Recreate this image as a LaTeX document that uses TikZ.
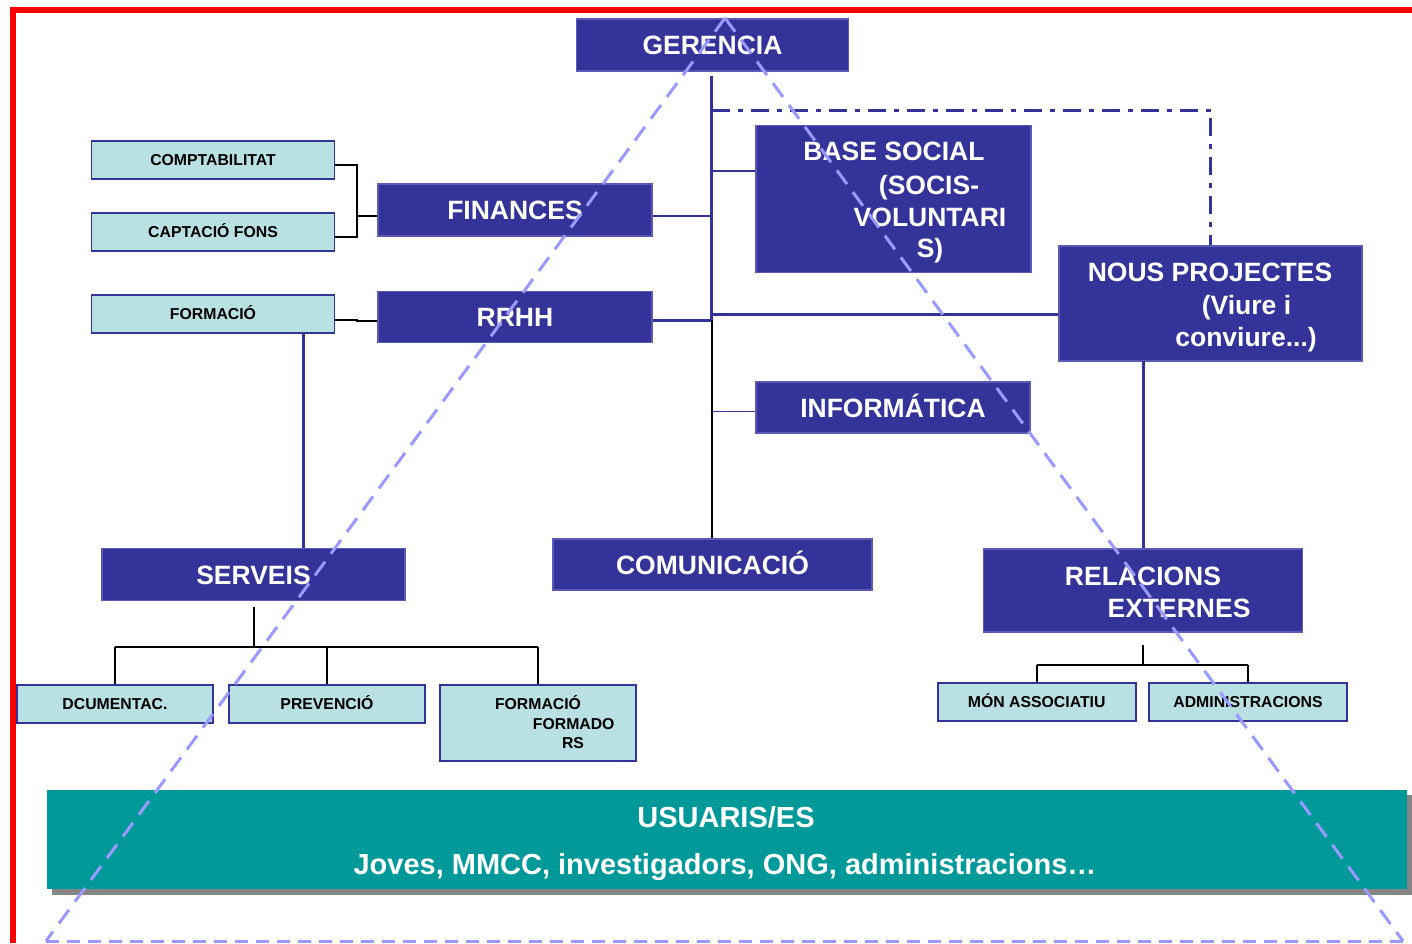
\documentclass[tikz,border=0pt]{standalone}
\usepackage{fontspec}
\setmainfont{Liberation Sans}
\definecolor{navy}{HTML}{333399}
\definecolor{navyedge}{HTML}{5A5AB4}
\definecolor{paleteal}{HTML}{B9E0E3}
\definecolor{bannerteal}{HTML}{009999}
\definecolor{tri}{HTML}{9999FF}
\definecolor{shadowgray}{HTML}{858585}
\tikzset{
  bigbox/.style={fill=navy, draw=navyedge, line width=1.2pt, text=white,
    font=\fontsize{26.5}{30}\selectfont\bfseries, inner sep=0pt,
    text height=19pt, text depth=0pt},
  smallbox/.style={fill=paleteal, draw=navy, line width=1.8pt, text=black,
    font=\fontsize{15.8}{19}\selectfont\bfseries, inner sep=0pt,
    text height=11.3pt, text depth=0pt},
  bigtext/.style={text=white, font=\fontsize{26.5}{30}\selectfont\bfseries,
    inner sep=0pt, text height=19pt, text depth=0pt},
  smalltext/.style={text=black, font=\fontsize{15.8}{19}\selectfont\bfseries,
    inner sep=0pt, text height=11.3pt, text depth=0pt},
  bannertext/.style={text=white, font=\fontsize{29}{33}\selectfont\bfseries,
    inner sep=0pt, text height=20.8pt, text depth=0pt},
  thickln/.style={draw=navy, line width=3pt},
  thinln/.style={draw=navy, line width=1.8pt},
  blackln/.style={draw=black, line width=2pt},
  dashdotln/.style={draw=navy, line width=3pt, dash pattern=on 18pt off 8pt on 5pt off 8pt},
  triln/.style={draw=tri, line width=3pt, dash pattern=on 17pt off 10pt},
  tribase/.style={draw=tri, line width=3pt, dash pattern=on 13pt off 8pt},
}
\begin{document}
\begin{tikzpicture}[x=1pt,y=-1pt]
\useasboundingbox (0,0) rectangle (1412,943);
\fill[white] (0,0) rectangle (1412,943);

% red frame
\draw[red, line width=6pt] (12.5,943) -- (12.5,9.5) -- (1412,9.5);

% boxes
\node[bigbox, minimum width=272pt, minimum height=52pt] (ger) at (712.5,45) {GERENCIA};
\node[bigbox, minimum width=274pt, minimum height=52pt] (fin) at (515,210) {FINANCES};
\node[bigbox, minimum width=274pt, minimum height=51pt] (rr) at (515,317) {RRHH};
\node[bigbox, minimum width=275pt, minimum height=147pt] (bs) at (893.5,199) {};
\node[bigbox, minimum width=303pt, minimum height=115pt] (np) at (1210.5,303.5) {};
\node[bigbox, minimum width=274pt, minimum height=51pt] (inf) at (893,407.5) {INFORMÁTICA};
\node[bigbox, minimum width=319pt, minimum height=51pt] (com) at (712.5,564.5) {COMUNICACIÓ};
\node[bigbox, minimum width=303pt, minimum height=52pt] (ser) at (253.5,574.5) {SERVEIS};
\node[bigbox, minimum width=319pt, minimum height=83pt] (rel) at (1143,590.5) {};

\node[smallbox, minimum width=243pt, minimum height=38pt] (comp) at (213,160) {COMPTABILITAT};
\node[smallbox, minimum width=243pt, minimum height=38pt] (capt) at (213,232) {CAPTACIÓ FONS};
\node[smallbox, minimum width=243pt, minimum height=38pt] (form) at (213,314) {FORMACIÓ};
\node[smallbox, minimum width=196pt, minimum height=38pt] (doc) at (115,704) {DCUMENTAC.};
\node[smallbox, minimum width=196pt, minimum height=38pt] (prev) at (327,704) {PREVENCIÓ};
\node[smallbox, minimum width=196pt, minimum height=76pt] (ff) at (538,723) {};
\node[smallbox, minimum width=198pt, minimum height=38pt] (mon) at (1036.7,701.7) {MÓN ASSOCIATIU};
\node[smallbox, minimum width=198pt, minimum height=38pt] (adm) at (1248,701.7) {ADMINISTRACIONS};

% multi-line texts
\node[bigtext] (bs1) at (894,151) {BASE SOCIAL};
\node[bigtext] (bs2) at (929,185) {(SOCIS-};
\node[bigtext] (bs3) at (930,216.7) {VOLUNTARI};
\node[bigtext] (bs4) at (930,248) {S)};
\node[bigtext] (np1) at (1210,272) {NOUS PROJECTES};
\node[bigtext] (np2) at (1246.5,304.5) {(Viure i};
\node[bigtext] (np3) at (1246,337) {conviure...)};
\node[bigtext] (rel1) at (1143,576) {RELACIONS};
\node[bigtext] (rel2) at (1179,607.5) {EXTERNES};
\node[smalltext] (ff1) at (538,704) {FORMACIÓ};
\node[smalltext] (ff2) at (573.7,724) {FORMADO};
\node[smalltext] (ff3) at (573,743) {RS};

% banner
\fill[shadowgray] (52,795) rectangle (1412,895);
\node[fill=bannerteal, inner sep=0pt, minimum width=1360pt, minimum height=99pt] (ban) at (727,839.5) {};
\node[bannertext] (ban1) at (726,816.7) {USUARIS/ES};
\node[bannertext] (ban2) at (725,864.5) {Joves, MMCC, investigadors, ONG, administracions…};

% connectors - central spine
\coordinate (vtop) at (711.5,76);
\coordinate (vjoin) at (711.5,320);
\coordinate (dd) at (711.5,110);
\coordinate (cbs) at (711.5,171);
\coordinate (cnp) at (711.5,314);
\draw[thickln] (vtop) -- (vjoin);
\draw[dashdotln] (dd) -| (np.north);
\draw[thinln] (cbs) -- (cbs -| bs.west);
\draw[thinln] ([yshift=-6pt]fin.east) -- ([yshift=-6pt]fin.east -| vtop);
\draw[thickln] ([yshift=-3pt]rr.east) -- ([yshift=-3pt]rr.east -| vtop);
\draw[thickln] (cnp) -- (cnp -| np.west);
\draw[thinln] ([yshift=-4pt]inf.west) -- ([yshift=-4pt]inf.west -| vtop);
\draw[blackln] (vjoin) -- (vjoin |- com.north);

% finances bracket
\coordinate (brk) at (356.5,216);
\draw[blackln] ([yshift=-5pt]comp.east) -| (brk) |- ([yshift=-5pt]capt.east);
\draw[blackln] (brk) -- (brk -| fin.west);
\draw[blackln] ([yshift=-5.5pt]form.east) -- ++(22,0) |- ([yshift=-4pt]rr.west);

% formacio to serveis
\coordinate (fv) at (303.5,333);
\draw[thickln] (fv) -- (fv |- ser.north);

% serveis tree
\coordinate (st) at (253.5,607);
\coordinate (sh) at (253.5,647);
\draw[blackln] (st) -- (sh);
\draw[blackln] (doc.north |- sh) -- (ff.north |- sh);
\draw[blackln] (doc.north |- sh) -- (doc.north);
\draw[blackln] (prev.north |- sh) -- (prev.north);
\draw[blackln] (ff.north |- sh) -- (ff.north);

% nous projectes to relacions
\coordinate (npv) at (1143,361);
\draw[thickln] (npv) -- (npv |- rel.north);

% relacions tree
\coordinate (rt) at (1143,645);
\coordinate (rh) at (1143,665);
\draw[blackln] (rt) -- (rh);
\draw[blackln] (mon.north |- rh) -- (adm.north |- rh);
\draw[blackln] (mon.north |- rh) -- (mon.north);
\draw[blackln] (adm.north |- rh) -- (adm.north);

% dashed triangle
\coordinate (apex) at (725,18);
\coordinate (tl) at (46,941);
\coordinate (tr) at (1403,941);
\draw[triln] (apex) -- (tl);
\draw[triln] (apex) -- (tr);
\draw[tribase] (tl) -- (tr);
\end{tikzpicture}
\end{document}
